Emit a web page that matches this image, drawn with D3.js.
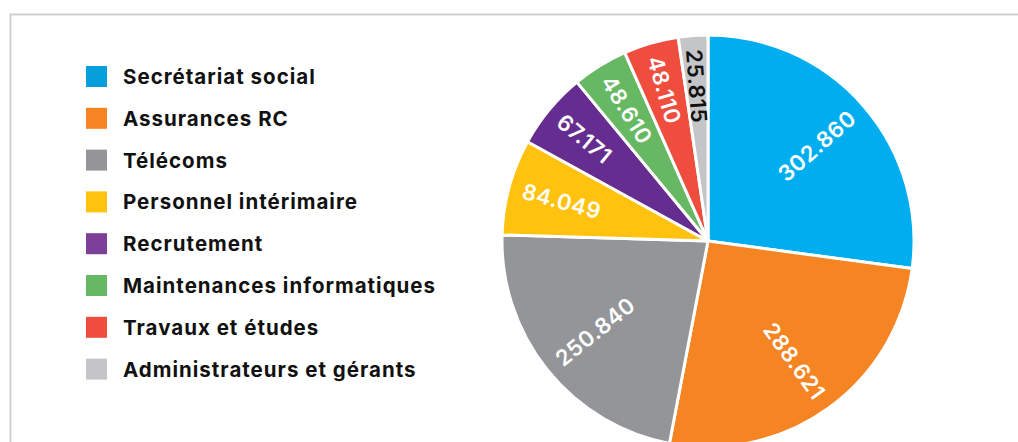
<!DOCTYPE html>
<html>
<head>
<meta charset="utf-8">
<script src="https://cdn.jsdelivr.net/npm/d3@7"></script>
<style>
  body { margin: 0; background: #fff; }
  svg { display: block; }
</style>
</head>
<body>
<div id="chart"></div>
<script>
// data
const categories = ["Secrétariat social", "Assurances RC", "Télécoms", "Personnel intérimaire",
                    "Recrutement", "Maintenances informatiques", "Travaux et études", "Administrateurs et gérants"];
const values = [302860, 288621, 250840, 84049, 67171, 48610, 48110, 25815];
const valueLabels = ["302.860", "288.621", "250.840", "84.049", "67.171", "48.610", "48.110", "25.815"];
const sliceColors = ["#00aeef", "#f58423", "#939598", "#ffc20e", "#662d91", "#66b962", "#ef4e3e", "#c4c5c7"];
const legendColors = ["#069fdb", "#f58423", "#939598", "#ffc20e", "#7e3f98", "#66b962", "#ef4e3e", "#c4c5c7"];
const labelColors = ["#fff", "#fff", "#fff", "#fff", "#fff", "#fff", "#fff", "#111"];

const W = 1018, H = 442;
const cx = 708, cy = 241, R = 206;

const svg = d3.select("#chart").append("svg")
  .attr("width", W).attr("height", H);

// frame (only top and left edges visible)
svg.append("rect")
  .attr("x", 10.5).attr("y", 14.5)
  .attr("width", W + 20).attr("height", H + 20)
  .attr("fill", "none")
  .attr("stroke", "#cfcfcf")
  .attr("stroke-width", 2);

// legend
const legend = svg.append("g").attr("transform", "translate(86,66)");
const rows = legend.selectAll("g").data(categories).join("g")
  .attr("transform", (d, i) => `translate(0,${i * 41.8})`);
rows.append("rect")
  .attr("width", 21).attr("height", 21)
  .attr("fill", (d, i) => legendColors[i]);
rows.append("text")
  .attr("x", 37).attr("y", 10.5)
  .attr("dominant-baseline", "central")
  .attr("font-family", "Inter, Roboto, sans-serif")
  .attr("font-weight", 700)
  .attr("font-size", 20.5)
  .attr("letter-spacing", 1.0)
  .attr("fill", "#111")
  .text(d => d);

// pie
const pie = d3.pie().sort(null).value(d => d);
const arcs = pie(values);
const arc = d3.arc().innerRadius(0).outerRadius(R);

const g = svg.append("g").attr("transform", `translate(${cx},${cy})`);
g.selectAll("path").data(arcs).join("path")
  .attr("d", arc)
  .attr("fill", (d, i) => sliceColors[i])
  .attr("stroke", "#fff")
  .attr("stroke-width", 3)
  .attr("stroke-linejoin", "round");

// radial value labels, anchored near the rim
const labelR = 192;
g.selectAll("text").data(arcs).join("text")
  .attr("transform", d => {
    const a = (d.startAngle + d.endAngle) / 2;
    const deg = a * 180 / Math.PI;
    const x = labelR * Math.sin(a), y = -labelR * Math.cos(a);
    const rot = deg < 180 ? deg - 90 : deg - 270;
    return `translate(${x},${y}) rotate(${rot})`;
  })
  .attr("text-anchor", d => ((d.startAngle + d.endAngle) / 2) < Math.PI ? "end" : "start")
  .attr("dominant-baseline", "central")
  .attr("font-family", "Inter, Roboto, sans-serif")
  .attr("font-weight", 600)
  .attr("font-size", 22)
  .attr("letter-spacing", 0.5)
  .attr("fill", (d, i) => labelColors[i])
  .text((d, i) => valueLabels[i]);
</script>
</body>
</html>
